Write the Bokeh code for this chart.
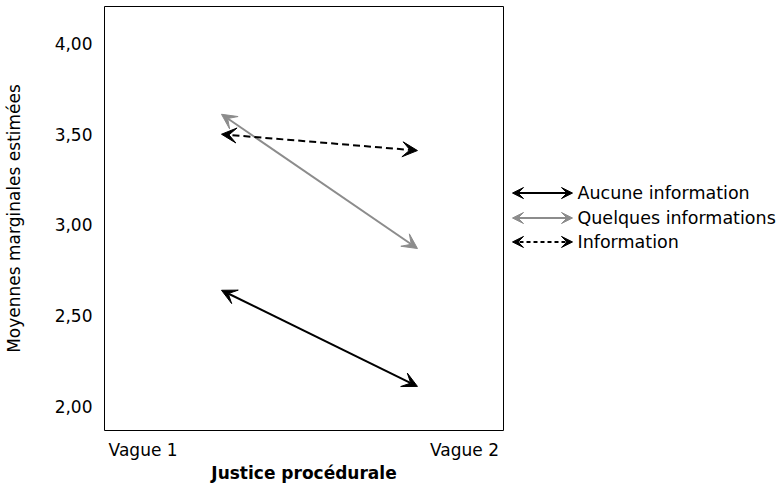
from bokeh.plotting import figure
from bokeh.models import Range1d, Arrow, VeeHead, FixedTicker
from bokeh.layouts import row
from bokeh.embed import file_html
from bokeh.resources import INLINE
from bokeh.core.properties import value

# ---- data ----
waves = ["Vague 1", "Vague 2"]
series_names = ["Aucune information", "Quelques informations", "Information"]
aucune = [2.64, 2.11]
quelques = [3.61, 2.87]
information = [3.50, 3.41]
y_ticks = [2.0, 2.5, 3.0, 3.5, 4.0]
y_tick_labels = ["2,00", "2,50", "3,00", "3,50", "4,00"]

series_values = [aucune, quelques, information]
series_colors = ["black", "#8c8c8c", "black"]
series_dash = ["solid", "solid", "7 4"]

FONT = "DejaVu Sans"
FS = "17px"

wave_pos = [0, 1]
label_pos = [-0.40, 1.24]

p = figure(width=505, height=485, x_range=Range1d(-0.597, 1.439),
           y_range=Range1d(1.867, 4.204), output_backend="svg",
           toolbar_location=None, min_border_left=104, min_border_right=2,
           min_border_top=6, min_border_bottom=54)
p.xgrid.visible = False
p.ygrid.visible = False
p.outline_line_color = "black"
p.outline_line_width = 1
p.background_fill_color = "white"
p.border_fill_color = "white"

for ax in (p.xaxis[0], p.yaxis[0]):
    ax.axis_line_color = None
    ax.major_tick_line_color = None
    ax.minor_tick_line_color = None
    ax.major_tick_out = 0
    ax.major_tick_in = 0
    ax.major_label_text_font = FONT
    ax.major_label_text_font_size = FS
    ax.major_label_text_color = "black"
    ax.axis_label_text_font = FONT
    ax.axis_label_text_font_size = FS
    ax.axis_label_text_color = "black"
    ax.axis_label_text_font_style = "normal"

p.xaxis.ticker = FixedTicker(ticks=label_pos)
p.xaxis.major_label_overrides = {label_pos[i]: waves[i] for i in range(2)}
p.xaxis.axis_label = "Justice procédurale"
p.xaxis.axis_label_text_font_style = "bold"
p.xaxis.major_label_standoff = 9
p.xaxis.axis_label_standoff = 0

p.yaxis.ticker = FixedTicker(ticks=y_ticks)
p.yaxis.major_label_overrides = {y_ticks[i]: y_tick_labels[i] for i in range(len(y_ticks))}
p.yaxis.axis_label = "Moyennes marginales estimées"
p.yaxis.major_label_standoff = 12
p.yaxis.axis_label_standoff = 28

for vals, col, dash in zip(series_values, series_colors, series_dash):
    p.add_layout(Arrow(x_start=wave_pos[0], y_start=vals[0], x_end=wave_pos[1], y_end=vals[1],
                       line_color=col, line_width=2, line_dash=dash,
                       start=VeeHead(size=15, fill_color=col, line_color=col, line_width=1),
                       end=VeeHead(size=15, fill_color=col, line_color=col, line_width=1)))

# ---- legend panel (pixel-like coordinates, frame aligned with main frame) ----
lg = figure(width=274, height=485, x_range=Range1d(505, 779), y_range=Range1d(431, 6),
            output_backend="svg", toolbar_location=None, x_axis_type=None, y_axis_type=None,
            min_border_left=0, min_border_right=0, min_border_top=6, min_border_bottom=54)
lg.xgrid.visible = False
lg.ygrid.visible = False
lg.outline_line_color = None
lg.border_fill_color = "white"
row_y = [193, 218, 242]
for name, col, dash, y in zip(series_names, series_colors, series_dash, row_y):
    lg.add_layout(Arrow(x_start=512, y_start=y, x_end=572, y_end=y,
                        line_color=col, line_width=2,
                        line_dash="4 3" if dash != "solid" else "solid",
                        start=VeeHead(size=11, fill_color=col, line_color=col, line_width=1),
                        end=VeeHead(size=11, fill_color=col, line_color=col, line_width=1)))
lg.text(x=[577] * 3, y=row_y, text=series_names, text_font=value(FONT),
        text_font_size="17.5px", text_baseline="middle", text_align="left", text_color="black")

layout = row(p, lg)
open("out.html", "w").write(file_html(layout, INLINE))
